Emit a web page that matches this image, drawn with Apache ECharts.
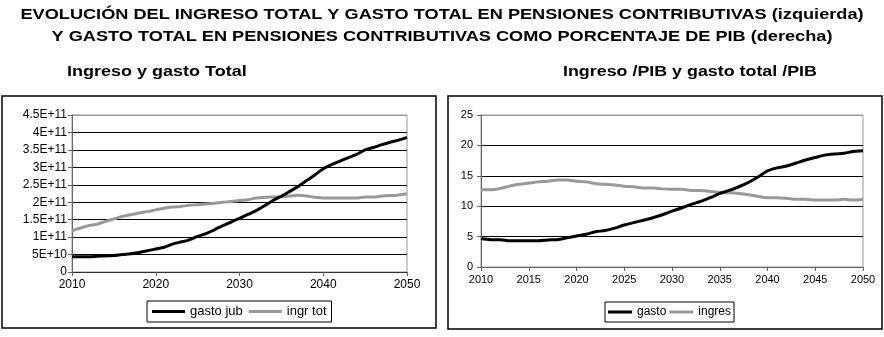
<!DOCTYPE html>
<html><head><meta charset="utf-8">
<script src="https://cdn.jsdelivr.net/npm/echarts@6/dist/echarts.min.js"></script>
<style>html,body{margin:0;padding:0;background:#fff}#c{width:884px;height:337px}</style>
</head><body><div id="c"></div>
<script>
const years = [2010,2011,2012,2013,2014,2015,2016,2017,2018,2019,2020,2021,2022,2023,2024,2025,2026,2027,2028,2029,2030,2031,2032,2033,2034,2035,2036,2037,2038,2039,2040,2041,2042,2043,2044,2045,2046,2047,2048,2049,2050];
// left chart (units of 1E+11)
const gastoJub = [0.44,0.44,0.44,0.45,0.46,0.47,0.50,0.52,0.56,0.61,0.66,0.71,0.80,0.86,0.92,1.02,1.10,1.21,1.33,1.43,1.54,1.65,1.76,1.90,2.05,2.17,2.31,2.45,2.62,2.78,2.96,3.08,3.18,3.28,3.37,3.50,3.57,3.65,3.72,3.78,3.86];
const ingrTot = [1.18,1.26,1.33,1.37,1.45,1.52,1.59,1.64,1.69,1.73,1.78,1.83,1.86,1.88,1.91,1.93,1.95,1.97,2.00,2.02,2.05,2.07,2.12,2.14,2.15,2.16,2.18,2.20,2.18,2.14,2.12,2.12,2.12,2.12,2.12,2.15,2.15,2.18,2.19,2.21,2.24];
// right chart (% of PIB)
const gasto = [4.67,4.5,4.5,4.3,4.3,4.3,4.3,4.45,4.5,4.8,5.1,5.4,5.8,6.0,6.4,6.9,7.3,7.7,8.1,8.6,9.2,9.7,10.3,10.8,11.4,12.1,12.6,13.2,13.9,14.8,15.8,16.3,16.6,17.1,17.6,18.0,18.4,18.6,18.7,19.0,19.1];
const ingres = [12.7,12.7,12.9,13.3,13.6,13.8,14.0,14.1,14.3,14.3,14.1,14.0,13.7,13.6,13.5,13.3,13.2,13.0,13.0,12.85,12.8,12.8,12.6,12.6,12.4,12.25,12.2,12.1,11.9,11.6,11.4,11.4,11.3,11.15,11.15,11.0,11.0,11.0,11.15,11.0,11.15];
const leftTickLabels = ['0','5E+10','1E+11','1.5E+11','2E+11','2.5E+11','3E+11','3.5E+11','4E+11','4.5E+11'];
const mainTitle1 = 'EVOLUCIÓN DEL INGRESO TOTAL Y GASTO TOTAL EN PENSIONES CONTRIBUTIVAS (izquierda)';
const mainTitle2 = 'Y GASTO TOTAL EN PENSIONES CONTRIBUTIVAS COMO PORCENTAJE DE PIB (derecha)';
const subLeft = 'Ingreso y gasto Total';
const subRight = 'Ingreso /PIB y gasto total /PIB';

const pairs = a => years.map((y,i)=>[y,a[i]]);
const FF = '"Liberation Sans", Arial, sans-serif';
const axisCol = '#666';
const splitCols = ['#000','#000','#000','#000','#000','#000','#000','#000','#000','#999'];
const splitCols2 = ['#000','#000','#000','#000','#000','#999'];
const txt = (text, x, y, size, align, sx) => ({
  type:'text', x:x, y:y, scaleX:sx, scaleY:1, z:10,
  style:{text:text, fontFamily:FF, fontWeight:'bold', fontSize:size, fill:'#000', align:align, verticalAlign:'middle'}
});

const chart = echarts.init(document.getElementById('c'), null, {renderer:'canvas'});
chart.setOption({
  animation:false,
  backgroundColor:'#fff',
  graphic:[
    txt(mainTitle1, 442, 15, 15, 'center', 1.21),
    txt(mainTitle2, 442, 37, 15, 'center', 1.21),
    txt(subLeft, 67, 72, 15, 'left', 1.2),
    txt(subRight, 563, 72, 15, 'left', 1.19),
    {type:'rect', shape:{x:2, y:96, width:434, height:232}, style:{fill:null, stroke:'#000', lineWidth:1.5}, z:-1},
    {type:'rect', shape:{x:448, y:96, width:434, height:233}, style:{fill:null, stroke:'#000', lineWidth:1.5}, z:-1}
  ],
  grid:[
    {left:72, top:115, width:335, height:157, show:true, borderColor:'#999', borderWidth:1},
    {left:481, top:115, width:382, height:152, show:true, borderColor:'#999', borderWidth:1}
  ],
  legend:[
    {left:147, top:301, itemWidth:33, itemHeight:3, itemGap:6, padding:[4,5,4,5], borderColor:'#000', borderWidth:1,
     textStyle:{fontFamily:FF, fontSize:13, color:'#000'}, icon:'rect', data:['gasto jub','ingr tot']},
    {left:605, top:302, itemWidth:24, itemHeight:3, itemGap:3, padding:[4,3,4,3], borderColor:'#000', borderWidth:1,
     textStyle:{fontFamily:FF, fontSize:12, color:'#000'}, icon:'rect', data:['gasto','ingres']}
  ],
  xAxis:[
    {type:'value', gridIndex:0, min:2010, max:2050, interval:10,
     axisLine:{lineStyle:{color:'#333'}}, axisTick:{show:true, length:4, lineStyle:{color:axisCol}},
     splitLine:{show:false}, axisLabel:{fontFamily:FF, fontSize:12, color:'#000', margin:7, formatter:v=>String(v)}},
    {type:'value', gridIndex:1, min:2010, max:2050, interval:5,
     axisLine:{lineStyle:{color:axisCol}}, axisTick:{show:true, length:4, lineStyle:{color:axisCol}},
     splitLine:{show:false}, axisLabel:{fontFamily:FF, fontSize:11, color:'#000', margin:7, formatter:v=>String(v)}}
  ],
  yAxis:[
    {type:'value', gridIndex:0, min:0, max:4.5, interval:0.5,
     axisLine:{show:true, lineStyle:{color:axisCol}}, axisTick:{show:true, length:4, lineStyle:{color:axisCol}},
     splitLine:{show:true, lineStyle:{color:splitCols, width:1}},
     axisLabel:{fontFamily:FF, fontSize:12, color:'#000', margin:5,
       formatter:(v)=>leftTickLabels[Math.round(v*2)]}},
    {type:'value', gridIndex:1, min:0, max:25, interval:5,
     axisLine:{show:true, lineStyle:{color:axisCol}}, axisTick:{show:true, length:4, lineStyle:{color:axisCol}},
     splitLine:{show:true, lineStyle:{color:splitCols2, width:1}},
     axisLabel:{fontFamily:FF, fontSize:11, color:'#000', margin:8}}
  ],
  series:[
    {name:'gasto jub', type:'line', xAxisIndex:0, yAxisIndex:0, data:pairs(gastoJub), showSymbol:false, smooth:0.3,
     lineStyle:{color:'#000', width:3}, itemStyle:{color:'#000'}, z:3},
    {name:'ingr tot', type:'line', xAxisIndex:0, yAxisIndex:0, data:pairs(ingrTot), showSymbol:false, smooth:0.3,
     lineStyle:{color:'#999', width:3}, itemStyle:{color:'#999'}, z:2},
    {name:'gasto', type:'line', xAxisIndex:1, yAxisIndex:1, data:pairs(gasto), showSymbol:false, smooth:0.3,
     lineStyle:{color:'#000', width:3}, itemStyle:{color:'#000'}, z:3},
    {name:'ingres', type:'line', xAxisIndex:1, yAxisIndex:1, data:pairs(ingres), showSymbol:false, smooth:0.3,
     lineStyle:{color:'#999', width:3}, itemStyle:{color:'#999'}, z:2}
  ]
});
</script></body></html>
